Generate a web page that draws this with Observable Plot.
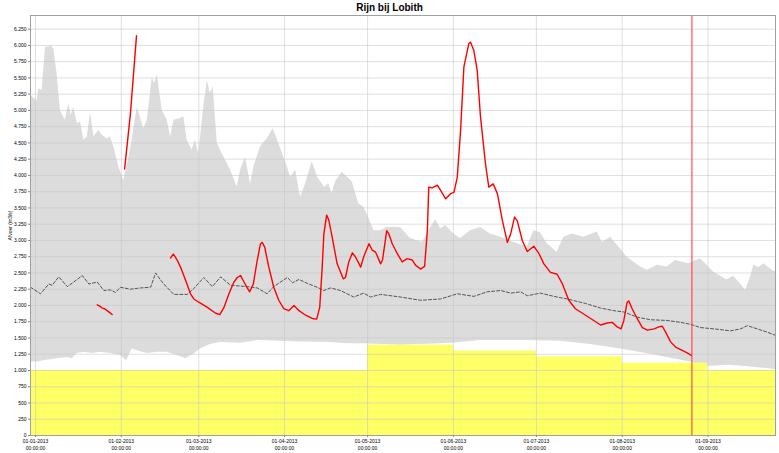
<!DOCTYPE html>
<html><head><meta charset="utf-8">
<script src="https://cdn.jsdelivr.net/npm/d3@7"></script>
<script src="https://cdn.jsdelivr.net/npm/@observablehq/plot@0.6"></script>
<style>
body{margin:0;background:#fff;font-family:"Liberation Sans",Arial,sans-serif;}
#title{height:15px;line-height:15px;text-align:center;font-weight:bold;font-size:10px;color:#000;}
</style></head><body>
<div id="title">Rijn bij Lobith</div>
<div id="chart"></div>
<script>
// day offsets since 01-01-2013, value in m3/s
const bandMax = [[-1.8,5230],[0.6,5150],[1.2,5330],[2.4,5310],[3.6,5970],[4.8,5970],[5.4,6000],[6.6,5950],[7.8,5560],[9.0,5000],[10.8,4850],[12.0,5100],[12.9,4920],[13.8,5050],[15.1,4800],[16.3,4820],[17.5,4540],[18.7,4590],[19.9,4970],[21.1,4590],[22.9,4690],[24.1,4620],[25.9,4560],[27.1,4590],[28.3,4440],[30.1,4130],[31.9,3920],[34.3,4390],[36.8,5050],[39.1,4720],[40.4,4850],[42.2,5510],[43.0,5410],[44.0,5540],[45.8,5000],[47.6,4850],[48.8,4590],[50.0,4850],[51.8,4870],[53.6,4900],[54.8,4540],[56.6,4390],[57.8,4540],[59.0,4330],[60.8,5050],[62.1,5460],[63.2,5260],[64.2,5360],[65.7,4490],[67.5,4330],[70.5,4080],[72.9,3820],[74.1,4080],[75.9,4280],[77.7,3870],[78.9,4130],[81.3,4440],[83.7,4560],[85.9,4720],[87.9,4490],[91.0,4130],[92.2,3970],[94.0,4080],[95.8,3670],[97.6,3870],[100.0,4210],[102.0,3970],[103.6,3870],[104.4,3820],[106.0,3870],[107.2,3720],[108.4,3900],[110.8,4050],[114.5,3900],[116.8,3560],[118.6,3510],[119.9,3400],[122.3,3150],[124.7,3150],[127.1,3200],[131.9,3200],[135.5,3030],[139.8,2970],[142.1,3150],[144.6,3320],[146.4,3180],[148.2,3230],[151.2,3100],[153.6,3030],[157.2,3150],[160.8,3200],[164.4,3100],[168.1,3050],[172.9,2970],[177.7,2900],[180.1,3150],[182.5,3120],[184.9,2950],[188.5,2820],[190.9,3050],[194.0,3100],[198.2,3050],[203.0,3130],[204.8,2970],[207.8,3050],[211.4,2870],[213.8,2740],[218.6,2590],[221.1,2540],[224.7,2620],[228.3,2590],[231.3,2690],[236.1,2640],[240.3,2720],[245.1,2510],[249.9,2390],[252.2,2450],[254.8,2330],[256.6,2230],[258.4,2440],[259.6,2620],[261.3,2580],[263.2,2640],[266.2,2540],[267.8,2510]];
const bandMin = [[-1.8,1130],[0.6,1130],[3.0,1150],[7.8,1180],[11.5,1200],[13.3,1180],[15.1,1260],[17.5,1280],[20.5,1260],[23.5,1280],[27.1,1260],[30.7,1230],[32.9,1150],[34.9,1330],[37.9,1290],[40.4,1260],[44.0,1280],[47.6,1280],[51.2,1230],[54.2,1180],[57.2,1250],[59.6,1330],[63.2,1400],[66.9,1430],[74.1,1420],[80.1,1460],[88.5,1450],[95.8,1440],[106.6,1430],[112.6,1410],[118.6,1410],[131.9,1390],[150.7,1420],[160.8,1460],[175.3,1460],[189.7,1450],[200.6,1400],[211.4,1330],[222.3,1250],[229.5,1190],[236.7,1130],[242.9,1060],[250.1,1080],[256.6,1060],[262.0,1040],[267.8,1010]];
const yellowSteps = [[-1.8,1000],[120,1390],[151,1300],[181,1210],[212,1110],[243,1000],[267.8,1000]];
const median = [[-1.8,2280],[1.8,2180],[4.8,2330],[6.0,2310],[8.4,2440],[11.5,2290],[13.8,2360],[16.9,2460],[19.3,2330],[22.3,2360],[24.7,2230],[27.1,2240],[28.9,2200],[30.7,2280],[34.3,2250],[37.9,2270],[41.6,2280],[43.4,2500],[45.2,2390],[47.0,2300],[50.0,2170],[54.8,2170],[57.2,2260],[60.8,2430],[63.9,2290],[66.9,2440],[70.5,2310],[76.5,2290],[80.1,2270],[83.7,2180],[86.1,2290],[91.0,2430],[92.9,2350],[95.2,2400],[98.2,2340],[101.8,2280],[104.2,2230],[106.6,2270],[110.2,2230],[115.0,2130],[118.6,2190],[121.1,2130],[124.7,2170],[131.9,2130],[139.1,2080],[146.4,2100],[152.4,2180],[158.4,2140],[163.2,2210],[168.1,2230],[171.7,2190],[175.3,2210],[177.7,2150],[182.5,2190],[187.3,2140],[192.2,2100],[198.8,2030],[204.2,1960],[209.0,1920],[212.6,1900],[217.4,1820],[222.3,1780],[228.3,1770],[233.1,1740],[236.7,1710],[240.3,1660],[245.1,1640],[251.2,1610],[254.8,1640],[257.2,1690],[260.8,1640],[264.4,1590],[267.4,1540]];
const redJan = [[22.3,2010],[23.2,1990],[24.1,1960],[25.0,1950],[25.9,1920],[26.8,1890],[27.7,1860]];
const redFeb = [[32.2,4100],[34.3,4950],[36.5,6150]];
const redMain = [[48.8,2730],[49.8,2790],[50.6,2740],[51.4,2680],[52.4,2590],[54.2,2390],[56.0,2180],[57.2,2100],[59.0,2050],[62.1,1970],[65.1,1880],[66.6,1860],[68.1,1970],[69.9,2180],[71.7,2360],[72.9,2430],[74.1,2460],[75.1,2380],[76.5,2270],[77.4,2210],[78.7,2330],[80.1,2690],[81.3,2950],[81.9,2970],[82.8,2900],[84.3,2590],[86.1,2280],[87.9,2080],[89.7,1950],[91.5,1920],[93.4,2000],[95.2,1920],[97.6,1850],[100.0,1800],[101.6,1790],[102.7,1970],[103.6,2590],[104.2,3100],[105.2,3390],[106.0,3310],[107.2,3050],[109.0,2640],[111.2,2410],[112.0,2430],[113.2,2670],[114.5,2810],[115.6,2750],[117.5,2590],[118.6,2750],[120.5,2950],[121.7,2850],[122.9,2820],[124.7,2640],[125.4,2700],[126.9,3150],[127.7,3100],[128.9,2950],[130.7,2800],[132.5,2670],[134.3,2720],[136.1,2700],[137.3,2620],[139.1,2560],[140.6,2600],[141.6,3150],[142.1,3820],[143.3,3810],[145.2,3850],[146.4,3770],[148.2,3640],[150.0,3720],[151.2,3740],[152.4,3970],[153.6,4690],[154.8,5670],[156.6,6030],[157.2,6050],[158.4,5920],[159.6,5620],[160.8,4900],[162.6,4180],[163.8,3820],[165.4,3870],[166.9,3720],[168.7,3310],[170.5,2970],[171.7,3100],[173.1,3360],[174.1,3300],[175.9,3000],[177.7,2830],[180.1,2910],[181.9,2800],[183.7,2640],[186.1,2510],[188.5,2480],[190.3,2340],[192.7,2080],[195.1,1950],[200.6,1800],[204.2,1700],[206.6,1730],[208.4,1740],[210.2,1670],[211.6,1640],[212.6,1770],[213.8,2050],[214.4,2070],[215.6,1950],[217.4,1800],[219.3,1660],[221.1,1620],[223.5,1640],[225.3,1670],[226.5,1680],[227.7,1590],[229.5,1440],[231.3,1360],[233.7,1310],[235.5,1270],[237.0,1230]];
const nowDay = 237.2;
const monthTicks = ["2013-01-01","2013-02-01","2013-03-01","2013-04-01","2013-05-01","2013-06-01","2013-07-01","2013-08-01","2013-09-01"];
const yTicks = d3.range(0, 6251, 250);

const T0 = Date.UTC(2013,0,1);
const toDate = d => new Date(T0 + d*864e5);
const X = d => toDate(d[0]), Y = d => d[1];
const months = monthTicks.map(s => new Date(s + "T00:00:00Z"));
const nl = d3.formatLocale({decimal:",", thousands:".", grouping:[3], currency:["€",""]}).format(",d");
const fmtDate = d3.utcFormat("%d-%m-%Y");
const red = [
  ...redJan.map(p => ({s:"a", d:p[0], v:p[1]})),
  ...redFeb.map(p => ({s:"b", d:p[0], v:p[1]})),
  ...redMain.map(p => ({s:"c", d:p[0], v:p[1]}))
];

const chart = Plot.plot({
  width: 779, height: 438,
  marginTop: 0, marginBottom: 18, marginLeft: 30, marginRight: 4,
  style: {fontFamily: "'Liberation Sans', Arial, sans-serif", background: "#fff"},
  x: {type: "utc", domain: [toDate(-1.81), toDate(267.4)]},
  y: {domain: [0, 6460]},
  marks: [
    Plot.areaY(bandMax, {x: X, y: Y, fill: "#dcdcdc"}),
    Plot.areaY(bandMin, {x: X, y: Y, fill: "#ffffff"}),
    Plot.areaY(yellowSteps, {x: X, y: Y, fill: "#ffff66", curve: "step-after"}),
    Plot.gridY(yTicks, {stroke: "#c4c4c4", strokeOpacity: 0.55}),
    Plot.gridX(months, {stroke: "#c4c4c4", strokeOpacity: 0.55}),
    Plot.line(median, {x: X, y: Y, stroke: "#555", strokeWidth: 1, strokeDasharray: "3,2"}),
    Plot.line(red, {x: d => toDate(d.d), y: "v", z: "s", stroke: "#ff0000", strokeWidth: 1.4}),
    Plot.ruleX([toDate(nowDay)], {stroke: "#ff3030", strokeWidth: 1}),
    Plot.frame({stroke: "#a0a0a0"}),
    Plot.axisY(yTicks, {tickFormat: nl, fontSize: 5, tickSize: 2, tickPadding: 2, stroke: "#888",
      label: "Afvoer (m3/s)", labelAnchor: "center", labelArrow: "none", labelOffset: 22}),
    Plot.axisX(months, {tickFormat: d => fmtDate(d) + "\n00:00:00", fontSize: 5, tickSize: 2, tickPadding: 1, lineHeight: 1.3, stroke: "#888", label: null})
  ]
});
document.getElementById("chart").appendChild(chart);
</script></body></html>
